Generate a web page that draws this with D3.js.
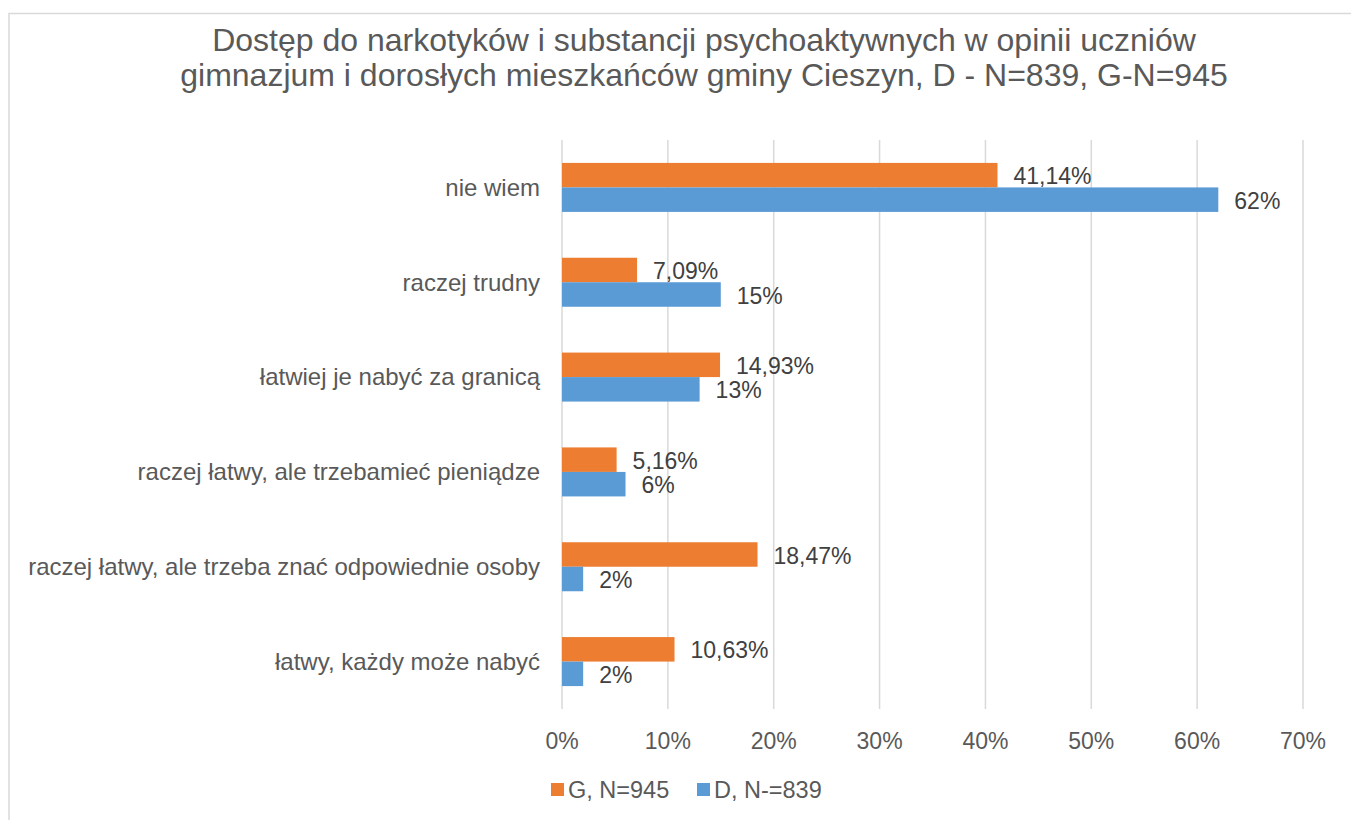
<!DOCTYPE html>
<html>
<head>
<meta charset="utf-8">
<script src="https://d3js.org/d3.v7.min.js"></script>
<style>
body { margin: 0; background: #fff; }
text { font-family: "Liberation Sans", Arial, sans-serif; fill: #595959; }
</style>
</head>
<body>
<svg id="chart"></svg>
<script>
var categories = ["nie wiem", "raczej trudny", "łatwiej je nabyć za granicą",
  "raczej łatwy, ale trzebamieć pieniądze", "raczej łatwy, ale trzeba znać odpowiednie osoby",
  "łatwy, każdy może nabyć"];
var seriesNames = ["G, N=945", "D, N-=839"];
var valuesG = [41.14, 7.09, 14.93, 5.16, 18.47, 10.63];
var valuesD = [62, 15, 13, 6, 2, 2];
var labelsG = ["41,14%", "7,09%", "14,93%", "5,16%", "18,47%", "10,63%"];
var labelsD = ["62%", "15%", "13%", "6%", "2%", "2%"];
var ticks = [0, 10, 20, 30, 40, 50, 60, 70];
var colors = ["#ED7D31", "#5B9BD5"];

var W = 1351, H = 820;
var svg = d3.select("#chart").attr("width", W).attr("height", H);

// outer frame (right and bottom edges fall outside the picture)
svg.append("rect").attr("x", 9).attr("y", 13.5).attr("width", W + 20).attr("height", H + 20)
  .attr("fill", "#fff").attr("stroke", "#d9d9d9").attr("stroke-width", 1.5);

svg.append("text").attr("x", 704).attr("y", 51).attr("text-anchor", "middle")
  .style("font-size", "32px")
  .text("Dostęp do narkotyków i substancji psychoaktywnych w opinii uczniów");
svg.append("text").attr("x", 704).attr("y", 86).attr("text-anchor", "middle")
  .style("font-size", "32px")
  .text("gimnazjum i dorosłych mieszkańców gminy Cieszyn, D - N=839, G-N=945");

var x = d3.scaleLinear().domain([0, 70]).range([562, 1303]);
var y = d3.scaleBand().domain(categories).range([140, 709]);
var inner = d3.scaleBand().domain([0, 1]).range([0, y.bandwidth()]).paddingInner(0).paddingOuter(0.935);

// gridlines
svg.append("g").selectAll("line").data(ticks).enter().append("line")
  .attr("x1", function(d) { return x(d); }).attr("x2", function(d) { return x(d); })
  .attr("y1", 140).attr("y2", 709)
  .attr("stroke", "#d9d9d9").attr("stroke-width", 1.5);

// x tick labels
svg.append("g").selectAll("text").data(ticks).enter().append("text")
  .attr("x", function(d) { return x(d); }).attr("y", 749)
  .attr("text-anchor", "middle").style("font-size", "23px")
  .text(function(d) { return d + "%"; });

// category labels
svg.append("g").selectAll("text").data(categories).enter().append("text")
  .attr("x", 540).attr("y", function(d) { return y(d) + y.bandwidth() / 2; })
  .attr("dy", "0.35em").attr("text-anchor", "end").style("font-size", "24px")
  .text(function(d) { return d; });

var series = [valuesG, valuesD];
var labels = [labelsG, labelsD];
series.forEach(function(vals, s) {
  var g = svg.append("g");
  g.selectAll("rect").data(vals).enter().append("rect")
    .attr("x", x(0))
    .attr("y", function(d, i) { return y(categories[i]) + inner(s); })
    .attr("width", function(d) { return x(d) - x(0); })
    .attr("height", inner.bandwidth())
    .attr("fill", colors[s]);
  g.selectAll("text").data(vals).enter().append("text")
    .attr("x", function(d) { return x(d) + 16; })
    .attr("y", function(d, i) { return y(categories[i]) + inner(s) + inner.bandwidth() / 2 + 1; })
    .attr("dy", "0.35em").style("font-size", "23px").style("fill", "#404040")
    .text(function(d, i) { return labels[s][i]; });
});

// legend
var legX = [551, 697];
seriesNames.forEach(function(n, s) {
  svg.append("rect").attr("x", legX[s]).attr("y", 783).attr("width", 13).attr("height", 13)
    .attr("fill", colors[s]);
  svg.append("text").attr("x", legX[s] + 17).attr("y", 790).attr("dy", "0.35em")
    .style("font-size", "23.5px").text(n);
});
</script>
</body>
</html>
